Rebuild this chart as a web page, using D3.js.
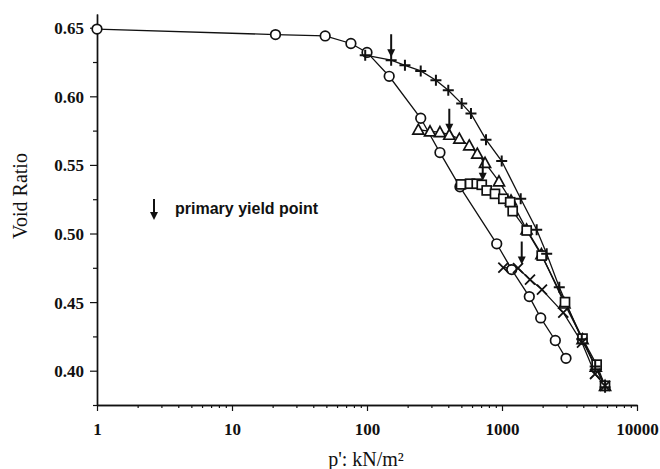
<!DOCTYPE html>
<html>
<head>
<meta charset="utf-8">
<script src="https://cdn.jsdelivr.net/npm/d3@7"></script>
<style>
  html, body { margin: 0; padding: 0; background: #fff; }
  svg { display: block; }
</style>
</head>
<body>
<svg id="chart" width="660" height="469"></svg>
<script>
// Isotropic compression curve (circles) and four loading tests
const circleP = [1, 21, 49, 76, 100, 146, 250, 347, 488, 914, 1180, 1593, 1935, 2483, 2979];
const circleE = [0.649, 0.645, 0.644, 0.6385, 0.632, 0.6146, 0.584, 0.559, 0.534, 0.4925, 0.4737, 0.454, 0.4385, 0.422, 0.409];

const plusP = [97, 151, 191, 250, 324, 400, 503, 589, 761, 995, 1376, 1807, 2143, 2657, 3900, 4900, 5800];
const plusE = [0.630, 0.6263, 0.6226, 0.6185, 0.6117, 0.6044, 0.5947, 0.5874, 0.5684, 0.5528, 0.5253, 0.5027, 0.4852, 0.4608, 0.423, 0.403, 0.388];

const triP = [240, 293, 347, 407, 483, 572, 656, 749, 950, 1166, 1520, 1960, 2900, 3950, 4950, 5800];
const triE = [0.5757, 0.5745, 0.5739, 0.572, 0.5691, 0.5642, 0.5582, 0.5515, 0.538, 0.5241, 0.503, 0.485, 0.449, 0.423, 0.403, 0.389];

const sqP = [497, 580, 650, 708, 770, 887, 1023, 1150, 1200, 1524, 1968, 2929, 3948, 5026, 5795];
const sqE = [0.5358, 0.5363, 0.5363, 0.5355, 0.5314, 0.5289, 0.5253, 0.5228, 0.5163, 0.5022, 0.4839, 0.450, 0.4234, 0.4044, 0.389];

const crossP = [1023, 1314, 1612, 1977, 2844, 3915, 4886, 5795];
const crossE = [0.4752, 0.4747, 0.4664, 0.4591, 0.4423, 0.4204, 0.3976, 0.389];

// Primary yield points of the loading tests
const yieldP = [151, 407, 720, 1400];
const yieldE = [0.6263, 0.572, 0.5363, 0.4752];

const xTicks = [1, 10, 100, 1000, 10000];
const yTicks = [0.40, 0.45, 0.50, 0.55, 0.60, 0.65];
const yMinor = [0.375, 0.425, 0.475, 0.525, 0.575, 0.625];

const svg = d3.select("#chart");
const x = d3.scaleLog().domain([1, 10000]).range([97, 637]);
const y = d3.scaleLinear().domain([0.375, 0.66]).range([405, 14]);

const ink = "#111";
const tickFont = "'Liberation Serif', 'Times New Roman', serif";

// Axes
const xMinor = [];
for (let d = 1; d < 10000; d *= 10) for (let k = 2; k <= 9; k++) xMinor.push(d * k);

const gx = svg.append("g").attr("transform", "translate(0,405)");
gx.call(d3.axisBottom(x).tickValues(xMinor).tickSize(3).tickSizeOuter(0).tickFormat(""));
gx.append("g").call(d3.axisBottom(x).tickValues(xTicks).tickSize(6).tickSizeOuter(0).tickFormat(d3.format("d")));

const gy = svg.append("g").attr("transform", "translate(97,0)");
gy.call(d3.axisLeft(y).tickValues(yMinor).tickSize(4).tickSizeOuter(0).tickFormat(""));
gy.append("g").call(d3.axisLeft(y).tickValues(yTicks).tickSize(7).tickSizeOuter(0).tickFormat(d3.format(".2f")));

svg.selectAll(".domain").attr("stroke", ink).attr("stroke-width", 1.4);
svg.selectAll(".tick line").attr("stroke", ink).attr("stroke-width", 1.2);
svg.selectAll(".tick text")
  .attr("fill", ink)
  .style("font-family", tickFont)
  .style("font-size", "17px")
  .style("font-weight", "bold");
gx.selectAll(".tick text").attr("dy", "1.25em");
gy.selectAll(".tick text").attr("x", -13).attr("dy", "0.35em");

// Axis titles
svg.append("text")
  .attr("transform", "translate(27,196) rotate(-90)")
  .attr("text-anchor", "middle")
  .style("font-family", tickFont)
  .style("font-size", "20px")
  .attr("fill", ink)
  .text("Void Ratio");

svg.append("text")
  .attr("x", 366).attr("y", 466)
  .attr("text-anchor", "middle")
  .style("font-family", tickFont)
  .style("font-size", "20px")
  .attr("fill", ink)
  .text("p': kN/m²");

// Series
const zip = (ps, es) => ps.map((p, i) => ({ p, e: es[i] }));
const series = [
  { name: "circle", data: zip(circleP, circleE) },
  { name: "plus", data: zip(plusP, plusE) },
  { name: "tri", data: zip(triP, triE) },
  { name: "sq", data: zip(sqP, sqE) },
  { name: "cross", data: zip(crossP, crossE) }
];

const line = d3.line().x(d => x(d.p)).y(d => y(d.e));
const plot = svg.append("g");

series.forEach(s => {
  plot.append("path")
    .datum(s.data)
    .attr("d", line)
    .attr("fill", "none")
    .attr("stroke", ink)
    .attr("stroke-width", 1.3);
});

const sw = 1.7;
function drawMarkers(s) {
  const g = plot.append("g");
  const pts = g.selectAll("g").data(s.data).join("g")
    .attr("transform", d => `translate(${x(d.p)},${y(d.e)})`);
  if (s.name === "circle") {
    pts.append("circle").attr("r", 4.8).attr("fill", "#fff").attr("stroke", ink).attr("stroke-width", sw);
  } else if (s.name === "tri") {
    pts.append("path").attr("d", "M0,-5.5L5.5,4.5L-5.5,4.5Z").attr("fill", "#fff").attr("stroke", ink).attr("stroke-width", sw);
  } else if (s.name === "sq") {
    pts.append("rect").attr("x", -4.5).attr("y", -4.5).attr("width", 9).attr("height", 9)
      .attr("fill", "#fff").attr("stroke", ink).attr("stroke-width", sw);
  } else if (s.name === "plus") {
    pts.append("path").attr("d", "M-5.5,0H5.5M0,-5.5V5.5").attr("stroke", ink).attr("stroke-width", 2);
  } else if (s.name === "cross") {
    pts.append("path").attr("d", "M-5,-5L5,5M-5,5L5,-5").attr("stroke", ink).attr("stroke-width", 1.8);
  }
}
["circle", "tri", "sq", "plus", "cross"].forEach(n => drawMarkers(series.find(s => s.name === n)));

// Downward arrows
function arrow(g, cx, tipY, len) {
  g.append("line").attr("x1", cx).attr("x2", cx).attr("y1", tipY - len).attr("y2", tipY - 5)
    .attr("stroke", ink).attr("stroke-width", 2);
  g.append("path").attr("d", `M${cx - 4},${tipY - 8}L${cx + 4},${tipY - 8}L${cx},${tipY}Z`).attr("fill", ink);
}
const ag = svg.append("g");
yieldP.forEach((p, i) => arrow(ag, x(p), y(yieldE[i]) - 3, 23));

// Legend
arrow(ag, 154, 220, 21);
svg.append("text")
  .attr("x", 175).attr("y", 214)
  .style("font-family", "'Liberation Sans', Arial, sans-serif")
  .style("font-size", "16px")
  .style("font-weight", "bold")
  .attr("fill", ink)
  .text("primary yield point");
</script>
</body>
</html>
